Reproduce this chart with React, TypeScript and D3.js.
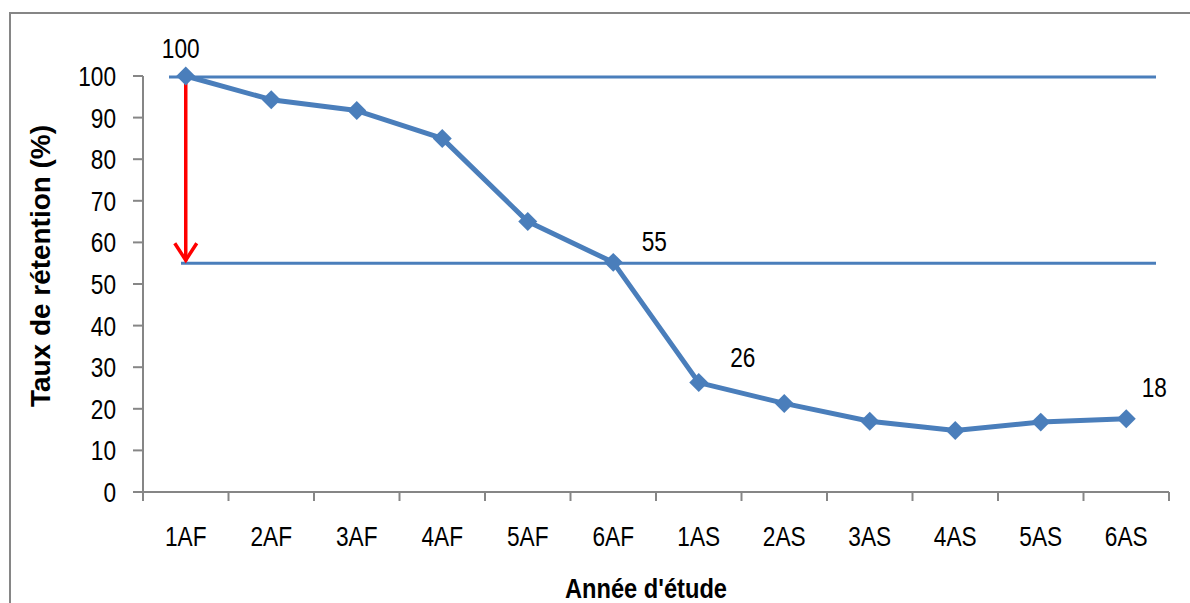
import React from "react";
import * as d3 from "d3";

// Retention rate by school year
const years = ["1AF", "2AF", "3AF", "4AF", "5AF", "6AF", "1AS", "2AS", "3AS", "4AS", "5AS", "6AS"];
const retention = [100, 94.3, 91.7, 85, 65, 55.2, 26.3, 21.3, 17, 14.8, 16.8, 17.6];
const yTicks = [0, 10, 20, 30, 40, 50, 60, 70, 80, 90, 100];
const labelledYears = ["1AF", "6AF", "1AS", "6AS"];
const referenceLevels = [100, 55];

const W = 1190;
const H = 603;
const left = 143;
const right = 1169;
const top = 76;
const bottom = 492;

const BLUE = "#4A7EBB";
const AXIS = "#868686";
const FONT = "'Liberation Sans', Arial, sans-serif";
// narrow-face look: squeeze text horizontally
const SQUEEZE = 0.84;

// label placement relative to its point
const labelOffset: Record<string, [number, number]> = {
  "1AF": [-5, -18],
  "6AF": [41, -11],
  "1AS": [44, -16],
  "6AS": [28, -22],
};

type TxtProps = {
  x: number;
  y: number;
  size: number;
  anchor?: "start" | "middle" | "end";
  children: React.ReactNode;
};

function Txt({ x, y, size, anchor = "middle", children }: TxtProps) {
  return (
    <text
      transform={`translate(${x},${y}) scale(${SQUEEZE},1)`}
      textAnchor={anchor}
      fontSize={size}
      fill="#000"
    >
      {children}
    </text>
  );
}

export default function App() {
  const x = d3.scaleBand<string>().domain(years).range([left, right]);
  const y = d3.scaleLinear().domain([0, 100]).range([bottom, top]);
  const cx = (c: string) => (x(c) as number) + x.bandwidth() / 2;

  const line = d3
    .line<number>()
    .x((_, i) => cx(years[i]))
    .y((v) => y(v));

  const diamond = d3.symbol(d3.symbolSquare, 180)() as string;
  const fmt = d3.format(".0f");

  const arrowX = cx(years[0]);
  const arrowTop = y(referenceLevels[0]);
  const arrowBottom = y(referenceLevels[1]);

  return (
    <svg
      width={W}
      height={H}
      style={{ position: "absolute", left: 0, top: 0, background: "#fff" }}
      fontFamily={FONT}
    >
      {/* frame */}
      <rect x={10} y={13} width={W + 20} height={H + 20} fill="none" stroke={AXIS} strokeWidth={2} />

      {/* reference levels */}
      <line x1={169} x2={1156} y1={y(referenceLevels[0]) + 1} y2={y(referenceLevels[0]) + 1} stroke={BLUE} strokeWidth={3} />
      <line x1={181} x2={1156} y1={y(referenceLevels[1])} y2={y(referenceLevels[1])} stroke={BLUE} strokeWidth={3} />

      {/* y axis */}
      <line x1={left} x2={left} y1={top} y2={bottom} stroke={AXIS} strokeWidth={2} />
      {yTicks.map((t) => (
        <g key={t}>
          <line x1={left - 10} x2={left} y1={y(t)} y2={y(t)} stroke={AXIS} strokeWidth={2} />
          <Txt x={116} y={y(t) + 10} size={27} anchor="end">
            {t}
          </Txt>
        </g>
      ))}

      {/* x axis */}
      <line x1={left} x2={right} y1={bottom} y2={bottom} stroke={AXIS} strokeWidth={2} />
      {[...years.map((c) => x(c) as number), right].map((px, i) => (
        <line key={i} x1={px} x2={px} y1={bottom} y2={bottom + 9} stroke={AXIS} strokeWidth={2} />
      ))}
      {years.map((c) => (
        <Txt key={c} x={cx(c)} y={546} size={27}>
          {c}
        </Txt>
      ))}

      {/* axis titles */}
      <text
        x={646}
        y={598}
        textAnchor="middle"
        fontSize={27}
        fontWeight="bold"
        textLength={162}
        lengthAdjust="spacingAndGlyphs"
        fill="#000"
      >
        Année d'étude
      </text>
      <text
        transform="translate(50, 266) rotate(-90)"
        textAnchor="middle"
        fontSize={28}
        fontWeight="bold"
        textLength={282}
        lengthAdjust="spacingAndGlyphs"
        fill="#000"
      >
        Taux de rétention (%)
      </text>

      {/* drop arrow */}
      <line x1={arrowX} x2={arrowX} y1={arrowTop} y2={arrowBottom - 2} stroke="#FF0000" strokeWidth={3.5} />
      <polyline
        points={`${arrowX - 11},${arrowBottom - 20} ${arrowX},${arrowBottom - 3} ${arrowX + 11},${arrowBottom - 20}`}
        fill="none"
        stroke="#FF0000"
        strokeWidth={3.5}
      />

      {/* series */}
      <path d={line(retention) as string} fill="none" stroke={BLUE} strokeWidth={5} strokeLinejoin="round" />
      {retention.map((v, i) => (
        <path key={i} d={diamond} transform={`translate(${cx(years[i])},${y(v)}) rotate(45)`} fill={BLUE} />
      ))}

      {/* value labels */}
      {labelledYears.map((c) => {
        const i = years.indexOf(c);
        const [dx, dy] = labelOffset[c];
        return (
          <Txt key={c} x={cx(c) + dx} y={y(retention[i]) + dy} size={27}>
            {fmt(retention[i])}
          </Txt>
        );
      })}
    </svg>
  );
}
